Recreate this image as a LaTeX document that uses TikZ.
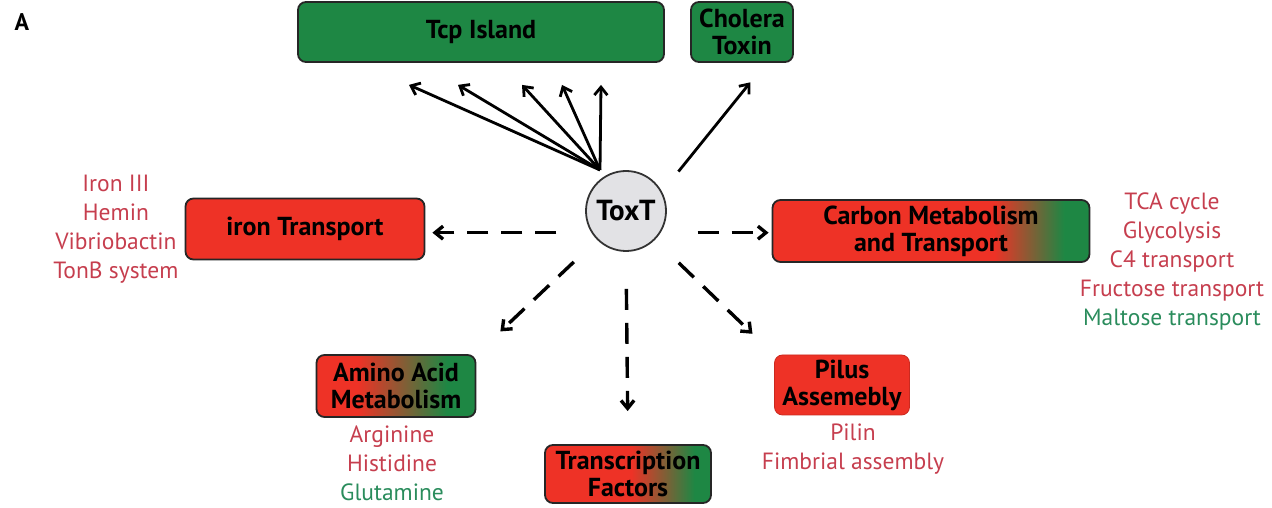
\documentclass[tikz,border=0pt]{standalone}
\usepackage{fontspec}
\setmainfont{PT Sans}
\usepackage{xcolor}
\usetikzlibrary{
	arrows.meta,
	positioning
}
\definecolor{boxgreen}{RGB}{30,135,68}
\definecolor{boxred}{RGB}{238,50,38}
\definecolor{listred}{RGB}{198,62,78}
\definecolor{listgreen}{RGB}{42,140,92}
\definecolor{hubgray}{RGB}{226,226,229}
\pgfdeclarehorizontalshading{carbonshade}{100bp}{color(0bp)=(boxred); color(60bp)=(boxred); color(71bp)=(boxgreen); color(100bp)=(boxgreen)}
\pgfdeclarehorizontalshading{aminoshade}{100bp}{color(0bp)=(boxred); color(38bp)=(boxred); color(66bp)=(boxgreen); color(100bp)=(boxgreen)}
\pgfdeclarehorizontalshading{factorshade}{100bp}{color(0bp)=(boxred); color(51bp)=(boxred); color(70bp)=(boxgreen); color(100bp)=(boxgreen)}
\tikzset{
	box/.style={
		draw=black!85, line width=1.8pt, rounded corners=8pt,
		align=center, inner sep=3pt,
		font=\fontsize{26}{27}\selectfont\bfseries
	},
	greenbox/.style={box, fill=boxgreen},
	redbox/.style={box, fill=boxred},
	hub/.style={
		circle, draw=black!80, line width=1.8pt, fill=hubgray,
		minimum size=80pt, font=\fontsize{29}{32}\selectfont\bfseries
	},
	genelist/.style={
		align=center, inner sep=0pt, text=listred,
		font=\fontsize{23.5}{29}\selectfont
	},
	direct/.style={
		-{Straight Barb[length=8pt,width=13pt]}, line width=2.8pt
	},
	indirect/.style={
		-{Straight Barb[length=8pt,width=13pt]}, line width=3.4pt,
		dash pattern=on 21pt off 13pt
	}
}
\begin{document}
\begin{tikzpicture}[x=1pt,y=1pt]
	\useasboundingbox (0,0) rectangle (1272,508);
	\draw
		node [font=\fontsize{24}{28}\selectfont\bfseries] (panel) at (22,486) {A}
		node [greenbox,minimum width=366pt,minimum height=60pt] (tcp)     at (481,476) {Tcp Island}
		node [greenbox,minimum width=102pt,minimum height=60pt] (cholera) at (742,476) {Cholera\\Toxin}
		node [hub]                                              (toxt)    at (626,297) {ToxT}
		node [redbox,minimum width=239pt,minimum height=61pt]   (iron)    at (305,279) {iron Transport}
		node [box,shading=carbonshade,minimum width=317pt,minimum height=62pt] (carbon) at (931,277) {Carbon Metabolism\\and Transport}
		node [box,shading=aminoshade,minimum width=159pt,minimum height=62pt]  (amino)  at (396,122) {Amino Acid\\Metabolism}
		node [box,shading=factorshade,minimum width=166pt,minimum height=58pt] (factor) at (628,34)  {Transcription\\Factors}
		node [redbox,draw=boxred!85!black,line width=0.8pt,minimum width=135pt,minimum height=60pt] (pilus) at (842,123) {Pilus\\Assemebly}
	;
	% gene lists
	\node [genelist,left=6pt of iron] (ironlist) {Iron III\\Hemin\\Vibriobactin\\TonB system};
	\node [genelist] (carbonlist) at (1172,247) {TCA cycle\\Glycolysis\\C4 transport\\Fructose transport\\\textcolor{listgreen}{Maltose transport}};
	\node [genelist,below=8pt of amino,xshift=-4pt] (aminolist) {Arginine\\Histidine\\\textcolor{listgreen}{Glutamine}};
	\node [genelist,below=8pt of pilus,xshift=11pt] (piluslist) {Pilin\\Fimbrial assembly};

	% direct targets
	\coordinate (tcpfrom) at (600,338);
	\foreach \dx in {-72,-23,41,81,120}
		\draw [direct] (tcpfrom) -- ([shift={(\dx pt,-22pt)}]tcp.south);
	\draw [direct,shorten <=26pt,shorten >=25pt] (toxt.28) -- ([xshift=24pt]cholera.south);

	% indirect targets
	\draw [indirect,shorten <=35pt,shorten >=7pt] (toxt.212) -- (toxt.212 -| iron.east);
	\draw [indirect,shorten <=37pt,shorten >=3pt] (toxt.328) -- (toxt.328 -| carbon.west);
	\draw [indirect,shorten <=32pt,shorten >=33pt] (toxt.225) -- (amino.north east);
	\draw [indirect,shorten <=37pt,shorten >=33pt] (toxt.south) -- (factor.north);
	\draw [indirect,shorten <=33pt,shorten >=30pt] (toxt.315) -- (pilus.north west);
\end{tikzpicture}
\end{document}
